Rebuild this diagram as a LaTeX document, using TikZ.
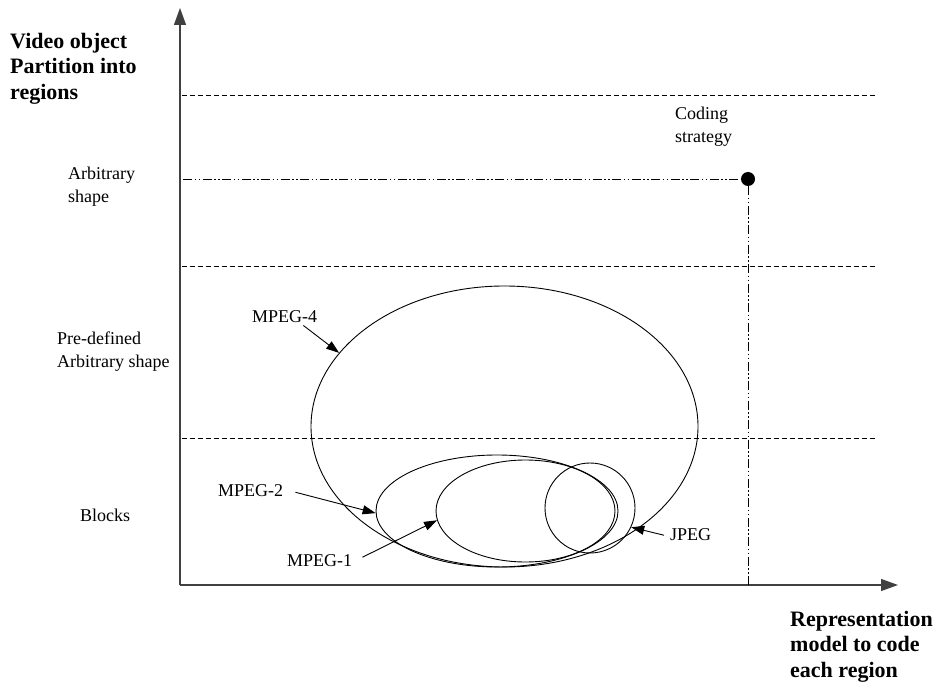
\documentclass[tikz,border=0pt]{standalone}
\usepackage{fontspec}
\setmainfont{Liberation Serif}
\usetikzlibrary{arrows.meta,shapes.geometric}
\begin{document}
\begin{tikzpicture}[x=1pt,y=-1pt,
  axisline/.style={line width=1.3pt,draw=black!75,-{Triangle[length=17pt,width=12pt]}},
  guide/.style={line width=0.9pt,dash pattern=on 5pt off 3pt},
  dashdotdot/.style={line width=0.9pt,dash pattern=on 9pt off 2.5pt on 1.5pt off 2.5pt on 1.5pt off 2.5pt},
  region/.style={ellipse,draw,line width=0.9pt,inner sep=0pt},
  pointer/.style={line width=0.9pt,-{Triangle[length=13pt,width=9pt]}},
  lab/.style={inner sep=0pt,anchor=north west,align=left,font=\fontsize{18}{22.5}\selectfont},
  blab/.style={inner sep=0pt,anchor=north west,align=left,font=\fontsize{22}{25.5}\selectfont\bfseries}]
\useasboundingbox (0,0) rectangle (939,684);
% axes
\coordinate (O) at (180,585);
\coordinate (ytip) at (180,8);
\coordinate (xtip) at (898,585);
\draw[axisline] (O) -- (ytip);
\draw[axisline] (O) -- (xtip);
% guide lines
\draw[guide] (182,95) -- (877,95);
\draw[guide] (182,266) -- (877,266);
\draw[guide] (182,438) -- (877,438);
% coding strategy
\node[circle,fill,minimum size=14pt,inner sep=0pt] (cs) at (748,179) {};
\coordinate (csl) at (183,179);
\coordinate (csb) at (748,585);
\draw[dashdotdot] (csl) -- (cs);
\draw[dashdotdot] (cs) -- (csb);
% ellipses
\node[region,minimum width=387pt,minimum height=281pt] (m4) at (504.5,426.5) {};
\node[region,minimum width=242pt,minimum height=112pt] (m2) at (497,511) {};
\node[region,minimum width=179pt,minimum height=102pt] (m1) at (525.5,511) {};
\node[region,minimum width=90pt,minimum height=90pt] (jp) at (590,508) {};
% labels
\node[blab] (vo) at (10,33) {Video object\\Partition into\\regions};
\node[blab] (rm) at (790,611) {Representation\\model to code\\each region};
\node[lab] (as) at (68,167) {Arbitrary\\shape};
\node[lab] (cst) at (675,107) {Coding\\strategy};
\node[lab] (pd) at (57,332) {Pre-defined\\Arbitrary shape};
\node[lab] (bl) at (80,509) {Blocks};
\node[lab] (m4l) at (252,310) {MPEG-4};
\node[lab] (m2l) at (218,484) {MPEG-2};
\node[lab] (m1l) at (287,554) {MPEG-1};
\node[lab] (jpl) at (670,528) {JPEG};
% pointers
\draw[pointer] ([xshift=-14pt,yshift=-3pt]m4l.south east) -- (m4.156);
\draw[pointer] ([xshift=12pt,yshift=-2pt]m2l.east) -- (m2.181);
\draw[pointer] ([xshift=10pt,yshift=3pt]m1l.east) -- (m1.186);
\draw[pointer] ([xshift=-6pt,yshift=-1pt]jpl.west) -- (jp.335);
\end{tikzpicture}
\end{document}
